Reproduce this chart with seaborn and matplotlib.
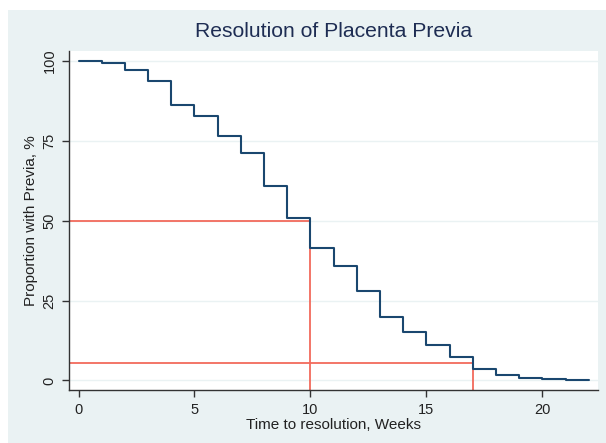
import numpy as np
import pandas as pd
import matplotlib.pyplot as plt
import seaborn as sns
from matplotlib.patches import Rectangle

# Kaplan-Meier style step values (% still with previa)
weeks = list(range(0, 23))
previa = [100, 99.4, 97.2, 93.7, 86.2, 82.8, 76.5, 71.3, 60.7, 50.9,
          41.5, 35.8, 27.9, 19.8, 15.0, 11.2, 7.2, 3.5, 1.7, 0.9, 0.3, 0.0, 0.0]

median_week = 10
median_pct = 50
late_week = 17
late_pct = 5.5

y_ticks = [0, 25, 50, 75, 100]
x_ticks = [0, 5, 10, 15, 20]

df = pd.DataFrame({"Week": weeks, "Previa": previa})

sns.set_style("white")
plt.rcParams['font.family'] = ['Liberation Sans', 'DejaVu Sans']

bg = "#eaf2f3"
navy = "#1a476f"
red = "#f26a5c"

fig = plt.figure(figsize=(6.06, 4.43), dpi=100, facecolor="white")
fig.patches.append(Rectangle((8 / 606, 0), 1 - 8 / 606, 1 - 10 / 443,
                             transform=fig.transFigure, facecolor=bg,
                             edgecolor="none", zorder=-10))
ax = fig.add_axes([69 / 606, (443 - 390) / 443, (598 - 69) / 606, (390 - 51) / 443])
ax.set_facecolor("white")

for yt in y_ticks:
    ax.axhline(yt, color=bg, linewidth=1, zorder=0)

sns.lineplot(data=df, x="Week", y="Previa", drawstyle="steps-post",
             color=navy, linewidth=1.5, ax=ax, zorder=3)

# reference lines at the median and at 17 weeks
ax.plot([-1, median_week], [median_pct, median_pct], color=red, linewidth=1.3, zorder=2)
ax.plot([median_week, median_week], [-5, median_pct], color=red, linewidth=1.3, zorder=2)
ax.plot([-1, late_week], [late_pct, late_pct], color=red, linewidth=1.3, zorder=2)
ax.plot([late_week, late_week], [-5, late_pct], color=red, linewidth=1.3, zorder=2)

ax.set_xlim(-0.41, 22.4)
ax.set_ylim(-3.0, 103.1)
ax.set_xticks(x_ticks)
ax.set_yticks(y_ticks)
ax.set_yticklabels([str(v) for v in y_ticks], rotation=90, va="center")

for side in ["top", "right"]:
    ax.spines[side].set_visible(False)
for side in ["left", "bottom"]:
    ax.spines[side].set_color("#333333")
    ax.spines[side].set_linewidth(1.0)

ax.tick_params(axis="both", direction="out", length=5, width=1, color="#333333",
               labelsize=10.5, labelcolor="#222222", left=True, bottom=True, pad=4)

ax.set_xlabel("Time to resolution, Weeks", fontsize=11, color="#222222", labelpad=1)
ax.set_ylabel("Proportion with Previa, %", fontsize=11, color="#222222", labelpad=3)
fig.suptitle("Resolution of Placenta Previa", x=(195 + 472) / 2 / 606, y=1 - 22 / 443,
             va="top", fontsize=15.2, color="#1e2d53")

fig.savefig("out.png", dpi=100, facecolor=fig.get_facecolor())
